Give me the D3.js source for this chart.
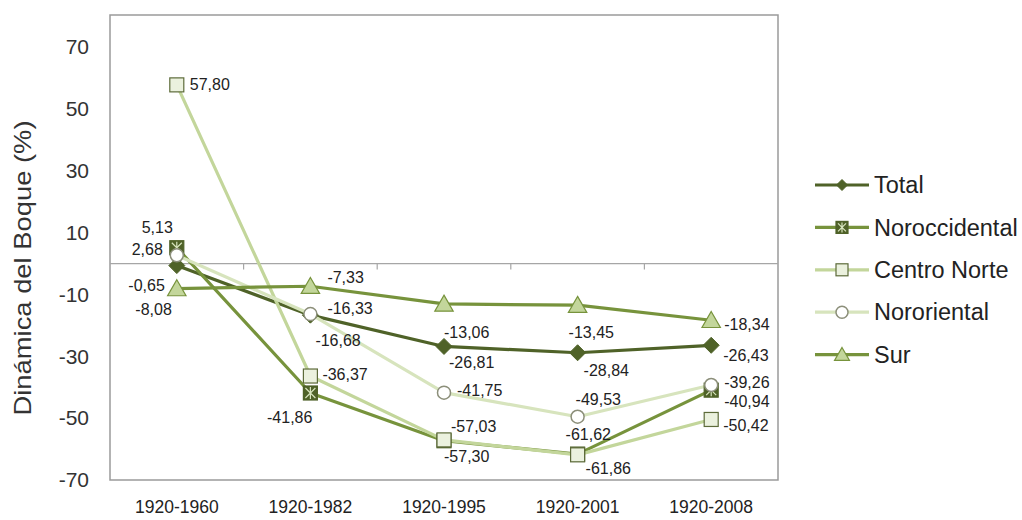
<!DOCTYPE html>
<html>
<head>
<meta charset="utf-8">
<script src="https://cdn.jsdelivr.net/npm/d3@7"></script>
<style>
  html, body { margin: 0; padding: 0; background: #fff; }
  svg { display: block; font-family: "Liberation Sans", Arial, sans-serif; }
</style>
</head>
<body>
<svg id="chart" width="1022" height="520"></svg>
<script>
// Periods on the x axis
const periods = ["1920-1960", "1920-1982", "1920-1995", "1920-2001", "1920-2008"];

// Forest change (%) per region and period
const total         = [-0.65, -16.68, -26.81, -28.84, -26.43];
const noroccidental = [5.13, -41.86, -57.30, -61.62, -40.94];
const centroNorte   = [57.80, -36.37, -57.03, -61.86, -50.42];
const nororiental   = [2.68, -16.33, -41.75, -49.53, -39.26];
const sur           = [-8.08, -7.33, -13.06, -13.45, -18.34];

const yTicks = [-70, -50, -30, -10, 10, 30, 50, 70];

// Series styling and value-label offsets [dx, dy, anchor] per point
const series = [
  { name: "Total", values: total, line: "#4f6228", marker: "diamond",
    fill: "#4f6228", stroke: "#4f6228",
    lab: [[-12, 20, "end"], [5, 25, "start"], [5, 16, "start"], [6, 18, "start"], [12, 10, "start"]] },
  { name: "Noroccidental", values: noroccidental, line: "#77933c", marker: "xsquare",
    fill: "#4f6228", stroke: "#4f6228",
    lab: [[-4, -20, "end"], [2, 24, "end"], [0, 16, "start"], [-12, -20, "start"], [13, 11, "start"]] },
  { name: "Centro Norte", values: centroNorte, line: "#c3d69b", marker: "square",
    fill: "#ebf1de", stroke: "#5d6b3a",
    lab: [[13, 0, "start"], [12, -2, "start"], [7, -13, "start"], [8, 14, "start"], [12, 6, "start"]] },
  { name: "Nororiental", values: nororiental, line: "#d7e4bd", marker: "circle",
    fill: "#ffffff", stroke: "#8c8f7a",
    lab: [[-14, -6, "end"], [17, -6, "start"], [13, -2, "start"], [-2, -17, "start"], [13, -3, "start"]] },
  { name: "Sur", values: sur, line: "#77933c", marker: "triangle",
    fill: "#c3d69b", stroke: "#77933c",
    lab: [[-5, 21, "end"], [17, -9, "start"], [0, 28, "start"], [-9, 27, "start"], [13, 4, "start"]] }
];

const svg = d3.select("#chart");
const plot = { left: 110, top: 15, right: 778, bottom: 480 };

const x = d3.scaleBand().domain(periods).range([plot.left, plot.right]);
const y = d3.scaleLinear().domain([-70, 80.4]).range([plot.bottom, plot.top]);

// Plot frame
svg.append("rect")
  .attr("x", plot.left).attr("y", plot.top)
  .attr("width", plot.right - plot.left).attr("height", plot.bottom - plot.top)
  .attr("fill", "#fff").attr("stroke", "#9a9a9a").attr("stroke-width", 1.5);

// Value axis labels
const yAxis = svg.append("g").attr("transform", `translate(${plot.left},0)`)
  .call(d3.axisLeft(y).tickValues(yTicks).tickSize(0).tickPadding(21).tickFormat(d => String(d)));
yAxis.select(".domain").remove();
yAxis.selectAll("text").attr("font-size", 21).attr("fill", "#333")
  .attr("font-family", "'Liberation Sans', Arial, sans-serif");

// Horizontal axis drawn along zero, with ticks between categories
svg.append("line")
  .attr("x1", plot.left).attr("x2", plot.right)
  .attr("y1", y(0)).attr("y2", y(0))
  .attr("stroke", "#a6a6a6").attr("stroke-width", 1.2);
svg.append("g").selectAll("line")
  .data(periods.slice(1))
  .join("line")
  .attr("x1", d => x(d)).attr("x2", d => x(d))
  .attr("y1", y(0)).attr("y2", y(0) + 6)
  .attr("stroke", "#a6a6a6").attr("stroke-width", 1.2);

// Category labels below the frame
const xAxis = svg.append("g").attr("transform", `translate(0,${plot.bottom})`)
  .call(d3.axisBottom(x).tickSize(0).tickPadding(21));
xAxis.select(".domain").remove();
xAxis.selectAll("text").attr("font-size", 17.5).attr("fill", "#222")
  .attr("font-family", "'Liberation Sans', Arial, sans-serif");

// Axis title
svg.append("text")
  .attr("transform", `translate(31,268) rotate(-90)`)
  .attr("text-anchor", "middle")
  .attr("font-size", 24).attr("fill", "#333")
  .attr("textLength", 295).attr("lengthAdjust", "spacingAndGlyphs")
  .text("Dinámica del Boque (%)");

const cx = d => x(d) + x.bandwidth() / 2;

function drawMarker(g, type, s, size) {
  const m = g.append("g");
  const h = size / 2;
  if (type === "diamond") {
    m.append("path").attr("d", `M0,${-h}L${h},0L0,${h}L${-h},0Z`)
      .attr("fill", s.fill).attr("stroke", s.stroke).attr("stroke-width", 1);
  } else if (type === "square" || type === "xsquare") {
    m.append("rect").attr("x", -h).attr("y", -h).attr("width", size).attr("height", size)
      .attr("fill", s.fill).attr("stroke", s.stroke).attr("stroke-width", 1.2);
    if (type === "xsquare") {
      m.append("path")
        .attr("d", `M${-h + 2},${-h + 2}L${h - 2},${h - 2}M${h - 2},${-h + 2}L${-h + 2},${h - 2}M0,${-h + 1}V${h - 1}`)
        .attr("stroke", "#d7e4bd").attr("stroke-width", 1.2);
    }
  } else if (type === "circle") {
    m.append("circle").attr("r", h)
      .attr("fill", s.fill).attr("stroke", s.stroke).attr("stroke-width", 1.5);
  } else if (type === "triangle") {
    const w = size * 1.15;
    m.append("path").attr("d", `M0,${-size * 0.55}L${w / 2},${size * 0.45}L${-w / 2},${size * 0.45}Z`)
      .attr("fill", s.fill).attr("stroke", s.stroke).attr("stroke-width", 1.2);
  }
  return m;
}

const markerSize = { diamond: 16, xsquare: 14, square: 14, circle: 13, triangle: 16 };

// Lines first, then markers, each in series order (later series on top)
const line = d3.line().x((d, i) => cx(periods[i])).y(d => y(d));
series.forEach(s => {
  svg.append("path").datum(s.values)
    .attr("d", line).attr("fill", "none")
    .attr("stroke", s.line).attr("stroke-width", 3.2)
    .attr("stroke-linejoin", "round");
});

series.forEach(s => {
  s.values.forEach((v, i) => {
    const m = drawMarker(svg, s.marker, s, markerSize[s.marker]);
    m.attr("transform", `translate(${cx(periods[i])},${y(v)})`);
  });
});

// Value labels
const fmt = v => v.toFixed(2).replace(".", ",");
series.forEach(s => {
  s.values.forEach((v, i) => {
    const [dx, dy, anchor] = s.lab[i];
    svg.append("text")
      .attr("x", cx(periods[i]) + dx)
      .attr("y", y(v) + dy)
      .attr("dy", "0.35em")
      .attr("text-anchor", anchor)
      .attr("font-size", 16).attr("fill", "#222")
      .text(fmt(v));
  });
});

// Legend
const legend = svg.append("g").attr("transform", "translate(815,185)");
const legendMarker = { diamond: 11, xsquare: 12, square: 12, circle: 12, triangle: 13 };
series.forEach((s, i) => {
  const g = legend.append("g").attr("transform", `translate(0,${i * 42.4})`);
  g.append("line").attr("x1", 0).attr("x2", 54).attr("y1", 0).attr("y2", 0)
    .attr("stroke", s.line).attr("stroke-width", 3.2);
  const m = drawMarker(g, s.marker, s, legendMarker[s.marker]);
  m.attr("transform", "translate(27,0)");
  g.append("text").attr("x", 59).attr("y", 0).attr("dy", "0.35em")
    .attr("font-size", 23.5).attr("fill", "#222").text(s.name);
});
</script>
</body>
</html>
